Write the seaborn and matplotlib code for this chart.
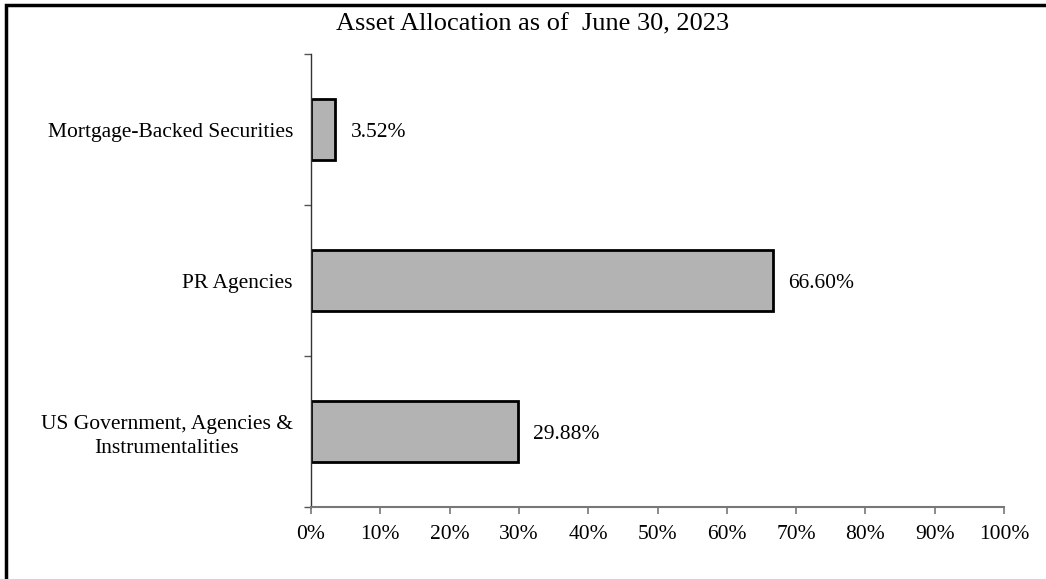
import matplotlib
matplotlib.use('Agg')
import matplotlib.pyplot as plt
import seaborn as sns
import pandas as pd
from matplotlib.patches import Rectangle
from matplotlib.ticker import FixedLocator

# データ
categories = ['Mortgage-Backed Securities', 'PR Agencies',
              'US Government, Agencies &\nInstrumentalities']
shares = [3.52, 66.60, 29.88]
x_ticks = [0, 10, 20, 30, 40, 50, 60, 70, 80, 90, 100]
title = 'Asset Allocation as of  June 30, 2023'

df = pd.DataFrame({'category': categories, 'share': shares})

sns.set_style('white')
plt.rcParams['font.family'] = ['Liberation Serif', 'DejaVu Serif']

W, H = 1046, 579
fs = 15.5
fig = plt.figure(figsize=(W / 100, H / 100), dpi=100)
ax = fig.add_axes([311 / W, 1 - 507 / H, (1004 - 311) / W, (507 - 54) / H])

sns.barplot(data=df, x='share', y='category', order=categories,
            color='#b3b3b3', edgecolor='black', linewidth=2.0,
            width=0.4, saturation=1, ax=ax)

for cont in ax.containers:
    texts = ax.bar_label(cont, labels=[f'{v:.2f}%' for v in shares],
                         padding=11, fontsize=fs, color='black')
    for t in texts:
        t.set_va('center_baseline')

ax.set_xlim(0, 100)
ax.set_ylim(2.5, -0.5)
ax.set_xticks(x_ticks)
ax.set_xticklabels([f'{t}%' for t in x_ticks], fontsize=fs)
ax.set_xlabel('')
ax.set_ylabel('')

# y軸: 目盛りはカテゴリ境界
ax.yaxis.set_minor_locator(FixedLocator([-0.5, 0.5, 1.5, 2.5]))
ax.tick_params(axis='y', which='major', length=0, pad=13, labelsize=fs,
               labelcolor='black')
ax.tick_params(axis='y', which='minor', length=5, width=1, color='#555555',
               direction='out', left=True)
ax.tick_params(axis='x', which='major', length=5, width=1.2, color='#777777',
               direction='out', bottom=True, pad=8, labelcolor='black')
for lbl in ax.get_yticklabels():
    lbl.set_multialignment('center')
    lbl.set_linespacing(1.35)

sns.despine(ax=ax, top=True, right=True)
ax.spines['left'].set_color('#333333')
ax.spines['left'].set_linewidth(1)
ax.spines['bottom'].set_color('#777777')
ax.spines['bottom'].set_linewidth(1.5)

fig.text(533 / W, 1 - 24 / H, title, ha='center', va='center',
         fontsize=19, color='black')

# 外枠（左・上のみ見える）
fig.patches.append(Rectangle((6 / W, -0.1), 1.2, 1 - 5 / H + 0.1,
                             transform=fig.transFigure, fill=False,
                             edgecolor='black', linewidth=2.5))

fig.savefig('out.png', dpi=100)
